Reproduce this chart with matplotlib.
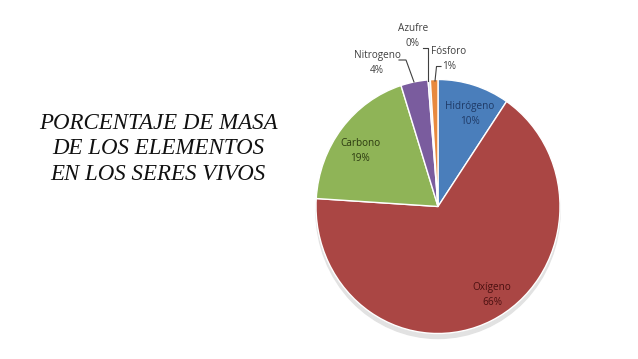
import numpy as np
import matplotlib.pyplot as plt
from matplotlib.patches import Ellipse

W, H = 638, 359

elementos = ['Hidrógeno', 'Oxígeno', 'Carbono', 'Nitrogeno', 'Azufre', 'Fósforo']
masa = [9.5, 66.5, 19.1, 3.6, 0.3, 1.0]
etiquetas_pct = ['10%', '66%', '19%', '4%', '0%', '1%']
colores = ['#4a7ebb', '#aa4644', '#8fb457', '#7a5c9e', '#dce6f0', '#e8893e']

# pie geometry in picture pixels (center, horizontal / vertical radius)
cx, cy, rx, ry = 438, 206.5, 122, 127

fig = plt.figure(figsize=(W / 100, H / 100), dpi=100)
ax = fig.add_axes([0, 0, 1, 1])

def px(x, y):
    # picture pixels -> data units (pie radius = 1)
    return (x - cx) / rx, (cy - y) / ry

# faint shadow under the pie
ax.add_patch(Ellipse(px(cx, cy + 5), 2.0, 2.0, color='#e2e2e2', zorder=0))

wedges, _ = ax.pie(masa, colors=colores, startangle=90, counterclock=False,
                   radius=1, wedgeprops=dict(edgecolor='white', linewidth=1))
ax.set_aspect('auto')
x0, _ = px(0, 0)
x1, _ = px(W, 0)
_, y1 = px(0, 0)
_, y0 = px(0, H)
ax.set_xlim(x0, x1)
ax.set_ylim(y0, y1)
ax.axis('off')

# labels inside the slices
dentro = {'Hidrógeno': (470, 114, '#1f3a66'),
          'Oxígeno': (492, 295, '#4a1010'),
          'Carbono': (360, 151, '#2c3a10')}
fuera = {'Nitrogeno': (377, 63), 'Azufre': (413, 36), 'Fósforo': (449, 59)}

for nombre, pct in zip(elementos, etiquetas_pct):
    if nombre in dentro:
        x, y, c = dentro[nombre]
    else:
        x, y = fuera[nombre]
        c = '#404040'
    ax.text(*px(x, y), nombre + '\n' + pct, ha='center', va='center',
            fontsize=7.2, family='Open Sans', color=c, linespacing=1.4)

# leader lines
lineas = [[(399, 60), (406, 60), (414, 82)],
          [(423, 47.5), (428, 47.5), (428, 81)],
          [(441, 66.5), (436.5, 66.5), (435, 81)]]
for ln in lineas:
    pts = np.array([px(*p) for p in ln])
    ax.plot(pts[:, 0], pts[:, 1], color='#404040', linewidth=0.8)

fig.text(158 / W, 1 - 149 / H, 'PORCENTAJE DE MASA\nDE LOS ELEMENTOS\nEN LOS SERES VIVOS',
         ha='center', va='center', multialignment='center', fontsize=16.5,
         family='Liberation Serif', style='italic', linespacing=1.26, color='#111111')

fig.savefig('out.png', dpi=100)
